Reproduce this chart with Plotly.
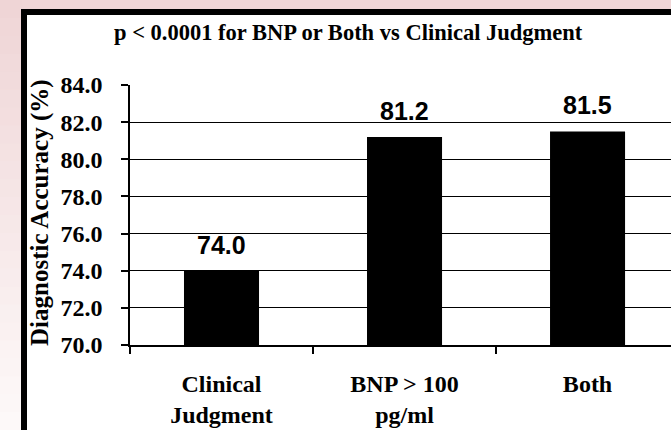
import plotly.graph_objects as go

categories = ["Clinical<br>Judgment", "BNP > 100<br>pg/ml", "Both"]
accuracy = [74.0, 81.2, 81.5]
bar_labels = ["74.0", "81.2", "81.5"]
y_ticks = [70, 72, 74, 76, 78, 80, 82, 84]
y_tick_text = ["70.0", "72.0", "74.0", "76.0", "78.0", "80.0", "82.0", "84.0"]
title_text = "p < 0.0001 for BNP or Both vs Clinical Judgment"
y_title = "Diagnostic Accuracy (%)"

W, H = 671, 430
L, R, T, B = 130, 0, 85, 85
PW, PH = W - L - R, H - T - B

def px(x):
    return (x - L) / PW

def py(y):
    return (H - B - y) / PH

serif = "Liberation Serif"
sans = "Liberation Sans"

fig = go.Figure()
fig.add_trace(go.Bar(
    x=categories, y=accuracy,
    marker=dict(color="black", line=dict(width=0)),
    width=0.41, hoverinfo="skip",
))

shapes = []
# pink gradient left strip
n = 24
top_c = (239, 213, 214)
bot_c = (253, 249, 249)
for i in range(n):
    f = i / (n - 1)
    c = tuple(int(round(top_c[k] + (bot_c[k] - top_c[k]) * f)) for k in range(3))
    y0 = i * H / n
    y1 = (i + 1) * H / n + 1
    shapes.append(dict(type="rect", xref="paper", yref="paper",
                       x0=px(-5), x1=px(22), y0=py(y1), y1=py(y0),
                       fillcolor="rgb(%d,%d,%d)" % c, line=dict(width=0), layer="below"))
# white panel with black border
shapes.append(dict(type="rect", xref="paper", yref="paper",
                   x0=px(24), x1=px(720), y0=py(480), y1=py(12),
                   fillcolor="white", line=dict(color="black", width=6), layer="below"))
fig.update_layout(shapes=shapes)

annotations = []
for cat, v, t in zip(categories, accuracy, bar_labels):
    annotations.append(dict(x=cat, y=v, xref="x", yref="y", text="<b>%s</b>" % t,
                            showarrow=False, yanchor="bottom", yshift=10,
                            font=dict(family=sans, size=25, color="black")))
annotations.append(dict(x=px(40), y=py(213), xref="paper", yref="paper",
                        text="<b>%s</b>" % y_title, textangle=-90, showarrow=False,
                        xanchor="center", yanchor="middle",
                        font=dict(family=serif, size=25, color="black")))
annotations.append(dict(x=px(348), y=py(32), xref="paper", yref="paper",
                        text="<b>%s</b>" % title_text, showarrow=False,
                        xanchor="center", yanchor="middle",
                        font=dict(family=serif, size=22.5, color="black")))
fig.update_layout(annotations=annotations)

fig.update_layout(
    width=W, height=H,
    margin=dict(l=L, r=R, t=T, b=B, pad=0),
    paper_bgcolor="rgb(240,214,215)",
    plot_bgcolor="rgba(0,0,0,0)",
    showlegend=False,
    bargap=0.59,
    font=dict(family=serif, size=24, color="black"),
)
fig.update_xaxes(
    type="category", range=[-0.5, 2.456],
    tickson="boundaries", ticks="outside", ticklen=7, tickwidth=1.5, tickcolor="black",
    showline=True, linecolor="black", linewidth=1.5,
    showgrid=False, ticklabelstandoff=16,
    tickfont=dict(family=serif, size=24, color="black", weight="bold"),
    tickvals=categories, ticktext=categories,
)
fig.update_yaxes(
    range=[70, 84], tickvals=y_ticks, ticktext=y_tick_text,
    ticks="outside", ticklen=7, tickwidth=1.5, tickcolor="black",
    showline=True, linecolor="black", linewidth=1.5,
    showgrid=True, gridcolor="black", gridwidth=1.3, zeroline=False,
    ticklabelstandoff=14,
    tickfont=dict(family=serif, size=24, color="black", weight="bold"),
)

fig.write_html("out.html", config={"displayModeBar": False},
               post_script="document.body.style.margin='0';document.body.style.padding='0';")
